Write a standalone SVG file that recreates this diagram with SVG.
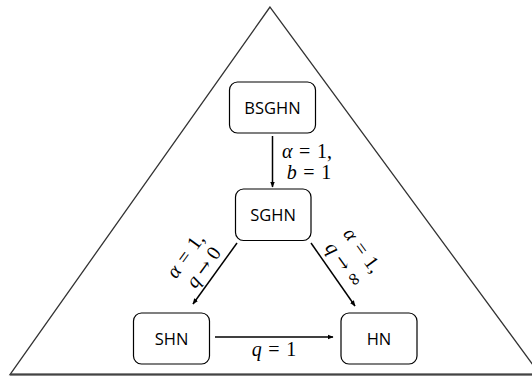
<svg xmlns="http://www.w3.org/2000/svg" width="532" height="376" viewBox="0 0 532 376">
<defs>
<marker id="ah" viewBox="0 0 10 10" refX="9" refY="5" markerWidth="6" markerHeight="6" orient="auto" markerUnits="userSpaceOnUse">
<path d="M0,1 L10,5 L0,9 z" fill="#000"/>
</marker>
</defs>
<style>
.box{fill:#fff;stroke:#000;stroke-width:1.2}
.lbl{font-family:"Open Sans","Noto Sans",sans-serif;font-size:16.5px;fill:#000;text-anchor:middle;dominant-baseline:central}
.m{font-family:"Liberation Serif","DejaVu Serif",serif;font-size:20px;fill:#000;text-anchor:middle;dominant-baseline:central}
.i{font-style:italic}
.s{font-family:"DejaVu Serif",serif;font-size:18px}
.c{stroke:#000;stroke-width:1.5;fill:none;marker-end:url(#ah)}
</style>
<rect width="532" height="376" fill="#fff"/>
<polygon points="270,7 10,374.5 540,374.5" fill="none" stroke="#333" stroke-width="1.3"/>
<line x1="10" y1="374.5" x2="532" y2="374.5" stroke="#444" stroke-width="2"/>
<g id="connectors">
<line class="c" x1="272.5" y1="136" x2="272.5" y2="187"/>
<line class="c" x1="237" y1="243" x2="193" y2="304"/>
<line class="c" x1="311" y1="243" x2="355" y2="306"/>
<line class="c" x1="215" y1="337" x2="333" y2="337"/>
<text class="m" x="307" y="151"><tspan class="i">α</tspan>&#x2004;=&#x2004;1,</text>
<text class="m" x="309" y="172"><tspan class="i">b</tspan>&#x2004;=&#x2004;1</text>
<text class="m" transform="translate(185,255) rotate(-54)"><tspan class="i">α</tspan>&#x2004;=&#x2004;1,</text>
<text class="m" transform="translate(203,267) rotate(-54)"><tspan class="i">q</tspan>&#x2005;<tspan class="s">→</tspan>&#x2005;0</text>
<text class="m" transform="translate(363,250) rotate(54)"><tspan class="i">α</tspan>&#x2004;=&#x2004;1,</text>
<text class="m" transform="translate(345,264) rotate(54)"><tspan class="i">q</tspan>&#x2005;<tspan class="s">→</tspan>&#x2005;<tspan class="s">∞</tspan></text>
<text class="m" x="274" y="349"><tspan class="i">q</tspan>&#x2004;=&#x2004;1</text>
</g>
<g id="BSGHN">
<rect class="box" x="229.5" y="82" width="86" height="51" rx="8"/>
<text class="lbl" x="272.5" y="107.5">BSGHN</text>
</g>
<g id="SGHN">
<rect class="box" x="235.5" y="189" width="75.5" height="51.5" rx="8"/>
<text class="lbl" x="273" y="214.5">SGHN</text>
</g>
<g id="SHN">
<rect class="box" x="133.5" y="313" width="76" height="51" rx="8"/>
<text class="lbl" x="171.5" y="338.5">SHN</text>
</g>
<g id="HN">
<rect class="box" x="341" y="313" width="76" height="51" rx="8"/>
<text class="lbl" x="379" y="338.5">HN</text>
</g>
</svg>
